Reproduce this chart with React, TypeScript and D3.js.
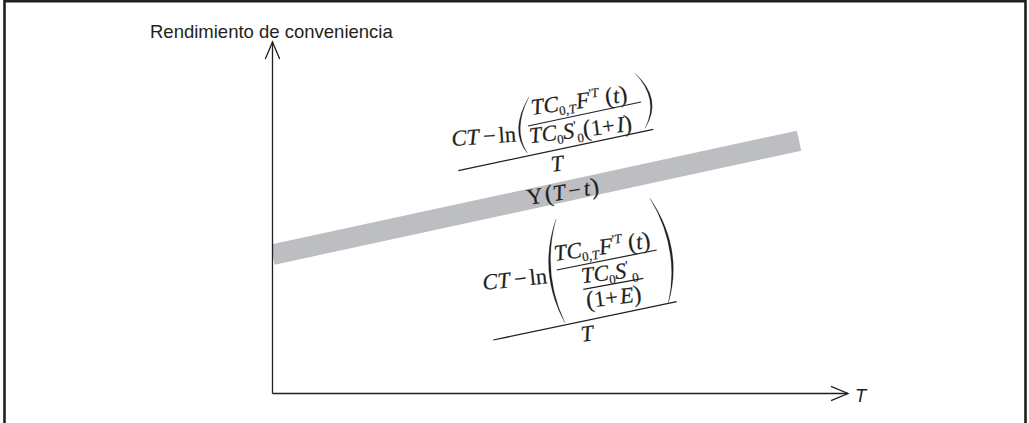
import * as d3 from 'd3';

// axes run 0..10 in arbitrary units (no ticks in the original)
const xDomain = [0, 10];
const yDomain = [0, 10];

// convenience-yield band: centre line, start and end
const bandT = [0, 9.15];
const bandY = [3.95, 7.19];

const yTitle = 'Rendimiento de conveniencia';
const xTitle = 'T';

const INK = '#231f20';
const BAND = '#bdbec1';
const serif = '"Liberation Serif", "Times New Roman", serif';
const sans = '"Liberation Sans", Arial, sans-serif';

type P = [number, number];

// filled crescent that looks like a tall typeset bracket
function paren(top: P, mid: P, bot: P, w = 1.8) {
  const chord: P = [(top[0] + bot[0]) / 2, (top[1] + bot[1]) / 2];
  const c: P = [2 * mid[0] - chord[0], 2 * mid[1] - chord[1]];
  const dx = chord[0] - c[0], dy = chord[1] - c[1];
  const len = Math.hypot(dx, dy);
  const ci: P = [c[0] + (dx / len) * w * 2, c[1] + (dy / len) * w * 2];
  return `M${top}Q${c} ${bot}Q${ci} ${top}Z`;
}

const at = (px: number, py: number, r: number) => `translate(${px},${py}) rotate(${r})`;

const Rule = ({ a, b }: { a: P; b: P }) => (
  <line x1={a[0]} y1={a[1]} x2={b[0]} y2={b[1]} stroke={INK} strokeWidth={1.25} />
);

const Numerator = ({ px, py }: { px: number; py: number }) => (
  <text transform={at(px, py, -8)}>
    <tspan fontStyle="italic">TC</tspan>
    <tspan fontSize={13} dy={4}>0,</tspan>
    <tspan fontSize={13} fontStyle="italic">T</tspan>
    <tspan fontStyle="italic" dy={-4} dx={1}>F</tspan>
    <tspan fontSize={13} dy={-9}>'</tspan>
    <tspan fontSize={13} fontStyle="italic">T</tspan>
    <tspan fontSize={24} dy={9} dx={6}>(</tspan>
    <tspan fontStyle="italic">t</tspan>
    <tspan fontSize={24}>)</tspan>
  </text>
);

const CTln = ({ px, py, r }: { px: number; py: number; r: number }) => (
  <text transform={at(px, py, r)}>
    <tspan fontStyle="italic">CT</tspan>
    <tspan dx={4}>−</tspan>
    <tspan dx={3}>ln</tspan>
  </text>
);

export default function App() {
  const x = d3.scaleLinear().domain(xDomain).range([272.5, 848]);
  const y = d3.scaleLinear().domain(yDomain).range([393.5, 42]);

  const bandPath = d3
    .line<number>()
    .x((_, i) => x(bandT[i]))
    .y((d) => y(d))(bandY) as string;

  const x0 = x(xDomain[0]), x1 = x(xDomain[1]);
  const y0 = y(yDomain[0]), y1 = y(yDomain[1]);
  const head = 17, half = 7.2;

  return (
    <div style={{ position: 'absolute', left: 0, top: 0 }}>
      <svg width={1029} height={423} style={{ display: 'block', background: '#fff' }}>
        <defs>
          <clipPath id="plot">
            <rect x={x0} y={0} width={1029 - x0} height={423} />
          </clipPath>
        </defs>

        {/* frame, open at the bottom */}
        <path d="M4.5,423V1.3H1025.5V423" fill="none" stroke={INK} strokeWidth={2.6} />

        {/* band */}
        <path d={bandPath} clipPath="url(#plot)" fill="none" stroke={BAND} strokeWidth={20.5} />

        {/* axes */}
        <g stroke={INK} strokeWidth={1.3} fill="none">
          <line x1={x0} y1={y0} x2={x0} y2={y1} />
          <line x1={x0} y1={y0} x2={x1} y2={y0} />
          <path d={`M${x0 - half},${y1 + head}L${x0},${y1}L${x0 + half},${y1 + head}`} />
          <path d={`M${x1 - head},${y0 - half}L${x1},${y0}L${x1 - head},${y0 + half}`} />
        </g>
        <text x={150} y={37.5} fontFamily={sans} fontSize={18.5} fill={INK}>{yTitle}</text>
        <text x={855} y={401.7} fontFamily={sans} fontSize={18.5} fontStyle="italic" fill={INK}>{xTitle}</text>

        <g fontFamily={serif} fontSize={22.5} fill={INK} stroke={INK} strokeWidth={0.2}>
          {/* upper bound formula */}
          <CTln px={452} py={146} r={-4} />
          <path d={paren([529, 96.7], [518.5, 128], [527.5, 153.3])} />
          <path d={paren([635, 73.3], [651.7, 100], [645, 128.3])} />
          <Numerator px={532} py={115} />
          <Rule a={[528, 126]} b={[641, 102]} />
          <text transform={at(530, 143.3, -7)}>
            <tspan fontStyle="italic">TC</tspan>
            <tspan fontSize={13} dy={4}>0</tspan>
            <tspan fontStyle="italic" dy={-4}>S</tspan>
            <tspan fontSize={13} dy={-8}>'</tspan>
            <tspan fontSize={13} dy={13}>0</tspan>
            <tspan fontSize={24} dy={-5}>(</tspan>
            <tspan>1+</tspan>
            <tspan fontStyle="italic" dx={2}>I</tspan>
            <tspan fontSize={24}>)</tspan>
          </text>
          <Rule a={[458.3, 170.7]} b={[653.3, 129.3]} />
          <text transform={at(551.7, 171.7, -7)} fontStyle="italic">T</text>

          {/* band label */}
          <text transform={at(528, 205, -9)}>
            <tspan>Y</tspan>
            <tspan fontSize={24} dx={2}>(</tspan>
            <tspan fontStyle="italic">T</tspan>
            <tspan dx={3}>−</tspan>
            <tspan fontStyle="italic" dx={3}>t</tspan>
            <tspan fontSize={24} dx={1}>)</tspan>
          </text>

          {/* lower bound formula */}
          <CTln px={483.3} py={290} r={-6} />
          <path d={paren([556, 219], [549, 272], [565, 323], 2)} />
          <path d={paren([650, 198.3], [671.7, 250], [668.3, 303.3], 2)} />
          <Numerator px={555} py={261} />
          <Rule a={[556.7, 270]} b={[656.7, 250]} />
          <text transform={at(582, 283.3, -7)}>
            <tspan fontStyle="italic">TC</tspan>
            <tspan fontSize={13} dy={4}>0</tspan>
            <tspan fontStyle="italic" dy={-4}>S</tspan>
            <tspan fontSize={13} dy={-8}>'</tspan>
            <tspan fontSize={13} dy={13} dx={3}>0</tspan>
          </text>
          <Rule a={[583.3, 289.3]} b={[643.3, 278.3]} />
          <text transform={at(587, 308, -7)}>
            <tspan fontSize={24}>(</tspan>
            <tspan>1+</tspan>
            <tspan fontStyle="italic" dx={2}>E</tspan>
            <tspan fontSize={24}>)</tspan>
          </text>
          <Rule a={[493.3, 340]} b={[676.7, 301.7]} />
          <text transform={at(581.7, 341.7, -7)} fontStyle="italic">T</text>
        </g>
      </svg>
    </div>
  );
}
